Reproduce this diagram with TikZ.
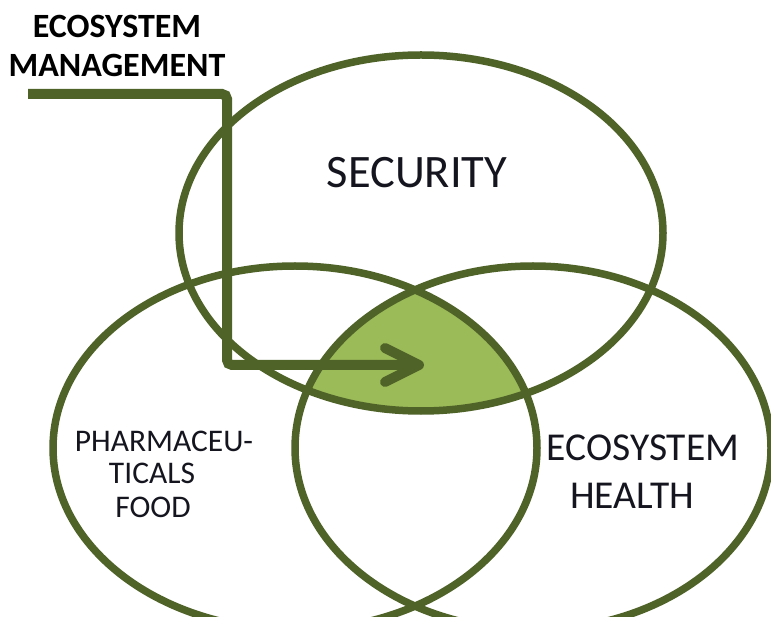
\documentclass[tikz,border=0pt]{standalone}
\usepackage{fontspec}
\setmainfont{Carlito}
\definecolor{ecoDark}{HTML}{4F6228}
\definecolor{ecoLight}{HTML}{9BBB59}
\definecolor{ecoText}{HTML}{15151F}
\tikzset{
  ring/.style={draw=ecoDark, line width=7.5pt},
  arrowline/.style={draw=ecoDark, line width=10pt},
  lbl/.style={inner sep=0pt, anchor=base, text=ecoText},
  bigl/.style={lbl, font=\fontsize{46.5}{50}\selectfont},
  midl/.style={lbl, font=\fontsize{39.5}{44}\selectfont},
  smalll/.style={lbl, font=\fontsize{31.5}{34}\selectfont},
  mgmtl/.style={lbl, text=black, font=\bfseries\fontsize{34}{38}\selectfont}
}
\begin{document}
\begin{tikzpicture}[x=1pt,y=-1pt]
\useasboundingbox (0,0) rectangle (771,617);
\fill[white] (0,0) rectangle (771,617);
% triple intersection
\begin{scope}
  \clip (421,233) ellipse [x radius=242, y radius=178];
  \clip (295,448) ellipse [x radius=242, y radius=182];
  \fill[ecoLight] (533,448) ellipse [x radius=238, y radius=182];
\end{scope}
% rings
\draw[ring] (421,233) ellipse [x radius=242, y radius=178];
\draw[ring] (295,448) ellipse [x radius=242, y radius=182];
\draw[ring] (533,448) ellipse [x radius=238, y radius=182];
% labels
\node[bigl] (sec) at (417,188) {SECURITY};
\node[smalll] (ph1) at (164,451) {PHARMACEU-};
\node[smalll] (ph2) at (152,483) {TICALS};
\node[smalll] (ph3) at (153,517) {FOOD};
\node[midl] (eh1) at (643,460) {ECOSYSTEM};
\node[midl] (eh2) at (632,508) {HEALTH};
\node[mgmtl] (em1) at (117,38) {ECOSYSTEM};
\node[mgmtl] (em2) at (117,77) {MANAGEMENT};
% arrow
\coordinate (start) at (28,94);
\coordinate (bendA) at (227,94);
\coordinate (bendB) at (227,365);
\coordinate (tip) at (419,365);
\draw[arrowline, rounded corners=5pt] (start) -- (bendA) -- (bendB) -- (tip);
\draw[arrowline, line cap=round, line join=round]
  ([shift={(-34,-17)}]tip) -- (tip) -- ([shift={(-34,17)}]tip);
\end{tikzpicture}
\end{document}
